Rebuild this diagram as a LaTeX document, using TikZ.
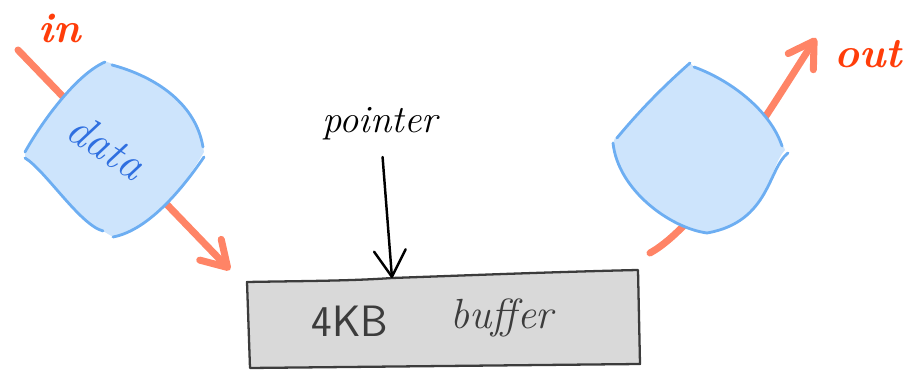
\documentclass[tikz,border=0pt]{standalone}
\usetikzlibrary{arrows.meta}

\definecolor{flowc}{HTML}{FF8466}
\definecolor{flowtext}{HTML}{FF3D0A}
\definecolor{blobfill}{HTML}{CDE4FC}
\definecolor{blobline}{HTML}{6DAEF2}
\definecolor{datatext}{HTML}{2F6FE0}
\definecolor{bufgray}{HTML}{D9D9D9}
\definecolor{ink}{HTML}{3C3C3C}

\begin{document}
\begin{tikzpicture}[x=0.02cm,y=-0.02cm,line cap=round,line join=round,
        flow/.style={draw=flowc,line width=4pt,-{Straight Barb[length=14pt,width=17pt,round]}},
        blob/.style={draw=blobline,line width=1.6pt},
        hand/.style={font=\itshape\fontsize{20}{22}\selectfont},
        label node/.style={text=flowtext,font=\bfseries\itshape\fontsize{24}{26}\selectfont}]

        \useasboundingbox (0,0) rectangle (909,377);

        % Define vertices
        \coordinate (in start) at (18,50);
        \coordinate (in end) at (230,270);
        \coordinate (out start) at (650,253);
        \coordinate (out end) at (816,38);
        \coordinate (ptr tip) at (392,278);
        \node[label node] (in) at (60,28) {in};
        \node[label node] (out) at (868,54) {out};
        \node[font=\itshape\fontsize{22}{24}\selectfont] (pointer) at (380,124) {pointer};

        % Draw flow arrows (behind the packets)
        \draw[flow] (in start) -- (in end);
        \draw[flow] (out start) .. controls (700,225) and (760,125) .. (out end);

        % Incoming packet
        \fill[blobfill] (25,152) .. controls (40,125) and (75,75) .. (107,62)
            .. controls (150,75) and (195,100) .. (204,152)
            .. controls (185,185) and (150,230) .. (113,237)
            -- (103,231) .. controls (80,225) and (45,170) .. (25,158) -- cycle;
        \draw[blob] (25,152) .. controls (40,125) and (75,75) .. (105,62);
        \draw[blob] (112,65) .. controls (150,75) and (195,100) .. (203,147);
        \draw[blob] (204,157) .. controls (185,185) and (150,230) .. (113,237);
        \draw[blob] (103,231) .. controls (80,225) and (45,170) .. (25,158);
        \node[text=datatext,rotate=-33,font=\itshape\fontsize{26}{28}\selectfont] (data) at (107,146) {data};

        % Outgoing packet
        \fill[blobfill] (615,138) .. controls (640,110) and (665,85) .. (690,63)
            -- (694,67) .. controls (730,80) and (770,110) .. (785,150)
            .. controls (768,168) and (770,222) .. (707,233)
            .. controls (670,228) and (618,190) .. (613,143) -- cycle;
        \draw[blob] (617,138) .. controls (640,110) and (665,85) .. (690,63);
        \draw[blob] (694,67) .. controls (730,80) and (770,110) .. (782,146);
        \draw[blob] (788,153) .. controls (768,168) and (770,222) .. (707,233)
            .. controls (670,228) and (618,190) .. (613,143);

        % Buffer block
        \filldraw[fill=bufgray,draw=ink,line width=1.3pt]
            (247,282) .. controls (300,281) and (350,281) .. (392,278)
            .. controls (450,276) and (550,272) .. (638,270)
            -- (640,364) -- (250,368) -- cycle;
        \node[text=ink,font=\sffamily\fontsize{25}{27}\selectfont] (size) at (350,321) {4KB};
        \node[text=ink,font=\itshape\fontsize{24}{26}\selectfont] (buf) at (502,318) {buffer};

        % Draw pointer
        \path[draw=black,line width=1.4pt,-{Straight Barb[length=15pt,width=18pt,round]}]
            (pointer) edge[shorten <=6pt] (ptr tip);

\end{tikzpicture}
\end{document}
